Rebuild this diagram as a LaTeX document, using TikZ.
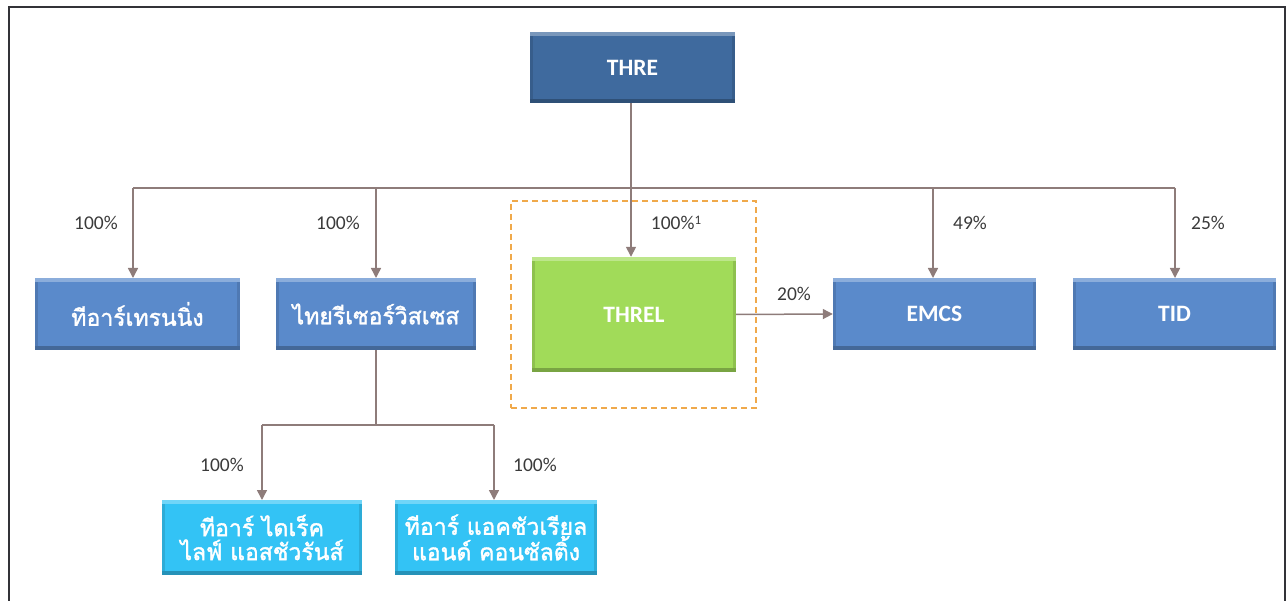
\documentclass[tikz,border=0pt]{standalone}
\usepackage{fontspec}
\setmainfont{Carlito}
\newfontfamily\thaifont[Script=Thai, FakeBold=1.6]{Loma}
\usetikzlibrary{arrows.meta}
\definecolor{darkblue}{HTML}{3F6A9E}
\definecolor{midblue}{HTML}{5A8ACB}
\definecolor{limegreen}{HTML}{A1DB59}
\definecolor{cyanbox}{HTML}{33C3F5}
\definecolor{conn}{HTML}{8E7C7A}
\definecolor{dashorange}{HTML}{F0A94A}
\definecolor{labelgray}{HTML}{3A3A3A}
\definecolor{framegray}{HTML}{333338}
\tikzset{
  bevelbox/.style={rectangle, inner sep=0pt, text=white, fill=#1,
    font=\bfseries\fontsize{23.5}{24}\selectfont, align=center,
    path picture={
      \fill[#1!70!white] (path picture bounding box.north west) rectangle ([yshift=-4pt]path picture bounding box.north east);
      \fill[#1!75!black] (path picture bounding box.south west) rectangle ([yshift=4pt]path picture bounding box.south east);
      \fill[#1!88!black] ([yshift=-4pt]path picture bounding box.north west) rectangle ([xshift=3pt,yshift=4pt]path picture bounding box.south west);
      \fill[#1!88!black] ([yshift=-4pt]path picture bounding box.north east) rectangle ([xshift=-3pt,yshift=4pt]path picture bounding box.south east);
    }},
  connector/.style={draw=conn, line width=1.5pt},
  arrowconn/.style={connector, -{Triangle[width=10pt,length=10pt]}},
  pct/.style={text=labelgray, font=\fontsize{19.5}{22}\selectfont, inner sep=0pt},
  thaitext/.style={font=\thaifont\fontsize{23}{24}\selectfont},
}
\begin{document}
\begin{tikzpicture}[x=1pt,y=-1pt]
\useasboundingbox (0,0) rectangle (1288,601);
% frame
\draw[framegray, line width=2pt] (9,601) -- (9,7) -- (1285,7) -- (1285,601);

% dashed highlight
\node[draw=dashorange, line width=1.5pt, dash pattern=on 6pt off 4pt, minimum width=245, minimum height=207, inner sep=0pt] (hl) at (633.5,304.5) {};

% boxes
\node[bevelbox=darkblue, minimum width=205, minimum height=71] (thre) at (632.5,67.5) {THRE};
\node[bevelbox=midblue, minimum width=205, minimum height=72, thaitext] (training) at (137.5,314) {ทีอาร์เทรนนิ่ง};
\node[bevelbox=midblue, minimum width=200, minimum height=72, thaitext] (services) at (376,314) {ไทยรีเซอร์วิสเซส};
\node[bevelbox=limegreen, minimum width=204, minimum height=115] (threl) at (634,314.5) {THREL};
\node[bevelbox=midblue, minimum width=203, minimum height=72] (emcs) at (934.5,314) {EMCS};
\node[bevelbox=midblue, minimum width=203, minimum height=72] (tid) at (1174.5,314) {TID};
\node[bevelbox=cyanbox, minimum width=200, minimum height=75, thaitext] (direct) at (262,537.5) {ทีอาร์ ไดเร็ค\\ไลฟ์ แอสชัวรันส์};
\node[bevelbox=cyanbox, minimum width=202, minimum height=75, thaitext] (actuarial) at (496,537.5) {ทีอาร์ แอคชัวเรียล\\แอนด์ คอนซัลติ้ง};

% bus coordinates
\coordinate (bus) at (631,188);
\coordinate (bus2) at (376,425);

% connectors
\draw[arrowconn] (thre.south -| bus) -- (bus |- threl.north);
\draw[connector] (bus -| 133,0) -- (bus -| 1175,0);
\draw[arrowconn] (bus -| 133,0) -- (133,278);
\draw[arrowconn] (bus -| 376,0) -- (376,278);
\draw[arrowconn] (bus -| 933,0) -- (933,278);
\draw[arrowconn] (bus -| 1175,0) -- (1175,278);
\draw[arrowconn] (threl.east) -- (emcs.west);
\draw[connector] (services.south) -- (bus2);
\draw[connector] (bus2 -| 262,0) -- (bus2 -| 494,0);
\draw[arrowconn] (bus2 -| 262,0) -- (262,500);
\draw[arrowconn] (bus2 -| 494,0) -- (494,500);

% labels
\node[pct] (l1) at (96,223) {100\%};
\node[pct] (l2) at (338,223) {100\%};
\node[pct] (l3) at (676,223) {100\%\raisebox{5pt}{\fontsize{13}{14}\selectfont 1}};
\node[pct] (l4) at (970,223) {49\%};
\node[pct] (l5) at (1208,223) {25\%};
\node[pct] (l6) at (794,294) {20\%};
\node[pct] (l7) at (222,465) {100\%};
\node[pct] (l8) at (535,465) {100\%};
\end{tikzpicture}
\end{document}
